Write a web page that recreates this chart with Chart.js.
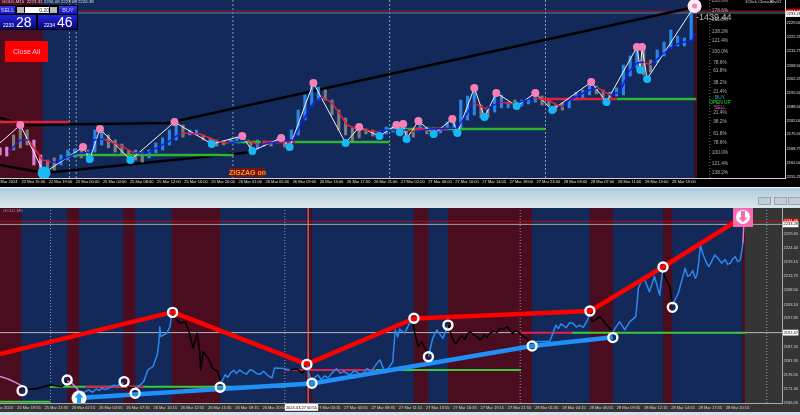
<!DOCTYPE html>
<html>
<head>
<meta charset="utf-8">
<script src="https://cdn.jsdelivr.net/npm/chart.js@4"></script>
<style>
html,body{margin:0;padding:0;background:#d5e2ea;}
#wrap{position:relative;width:800px;height:415px;overflow:hidden;font-family:"Liberation Sans",sans-serif;filter:blur(.35px);}
canvas{position:absolute;left:0;display:block;}
#c1{top:0;background:#000;}
#c2{top:208px;background:#353535;}
.t{position:absolute;white-space:nowrap;line-height:1;}
#strip{position:absolute;left:0;top:187px;width:800px;height:21px;background:linear-gradient(#fff 0,#9fc9e4 2px,#b6d0df 4px,#dbe6ec 100%);}
.sq{position:absolute;top:197px;width:11px;height:6px;background:#c4cdd3;border:1px solid #99a5ad;}
.btn{position:absolute;background:linear-gradient(#3a3ae8,#1414b8);color:#cfd4ff;font-size:5.5px;text-align:center;}
.big{position:absolute;background:linear-gradient(#2424e0,#07077a);}
</style>
</head>
<body>
<div id="wrap">
  <canvas id="c1" width="800" height="187"></canvas>
  <div id="strip"></div>
  <div class="sq" style="left:758px"></div>
  <div class="sq" style="left:774px"></div>
  <div class="sq" style="left:788px"></div>
  <canvas id="c2" width="800" height="204"></canvas>

  <div class="t" style="left:2px;top:0;font-size:4.4px;color:#ddd">GOLD,M15 &nbsp;2223.31 2236.08 2223.06 2226.38</div>
  <div style="position:absolute;left:0;top:5px;width:78px;height:25px;background:#000"></div>
  <div class="btn" style="left:0;top:6px;width:15px;height:8px;line-height:8px">SELL</div>
  <div class="btn" style="left:59px;top:6px;width:18px;height:8px;line-height:8px">BUY</div>
  <div style="position:absolute;left:17px;top:7px;width:7px;height:6px;background:#bbb"></div>
  <div style="position:absolute;left:25px;top:7px;width:24px;height:6px;background:#fff;color:#222;font-size:5px;line-height:6px;text-align:right">0.20</div>
  <div style="position:absolute;left:50px;top:7px;width:7px;height:6px;background:#bbb"></div>
  <div class="big" style="left:0;top:15px;width:36px;height:14px"></div>
  <div class="big" style="left:38px;top:15px;width:39px;height:14px"></div>
  <div class="t" style="left:3px;top:23px;font-size:5px;color:#fff">2233</div>
  <div class="t" style="left:16px;top:15px;font-size:14px;color:#fff">28</div>
  <div class="t" style="left:44px;top:23px;font-size:5px;color:#fff">2234</div>
  <div class="t" style="left:57px;top:15px;font-size:14px;color:#fff">46</div>

  <div class="t" style="left:5px;top:41px;width:43px;height:21px;line-height:21px;background:#ff0000;color:#ffc4c4;font-size:7px;text-align:center">Close All</div>
  <div class="t" style="left:229px;top:168px;width:36px;height:9px;line-height:9px;background:#7a1414;color:#e8a030;font-size:7px;font-weight:bold;text-align:center">ZIGZAG on</div>
  <div class="t" style="left:696px;top:13px;font-size:9px;color:#bbb">-1439.44</div>
  <div class="t" style="left:745px;top:0;font-size:4.4px;color:#ddd">1Click CloseAllv01</div>
  <div class="t" style="left:3px;top:209px;font-size:4.4px;color:#b08a96">GOLD,M5</div>
</div>
<script>
// ---- top panel, M15 ----
const topTimes = ['22 Mar 2024','22 Mar 15:00','22 Mar 19:00','25 Mar 00:00','25 Mar 04:00','25 Mar 08:00','25 Mar 12:00','25 Mar 16:00','25 Mar 20:00','26 Mar 01:00','26 Mar 05:00','26 Mar 09:00','26 Mar 13:00','26 Mar 17:00','26 Mar 21:00','27 Mar 02:00','27 Mar 06:00','27 Mar 10:00','27 Mar 14:00','27 Mar 18:00','27 Mar 23:00','28 Mar 03:00','28 Mar 07:00','28 Mar 11:00','28 Mar 15:00','28 Mar 19:00'];
const topPriceTicks = [2234.46,2233.28,2229.00,2222.25,2215.75,2208.50,2202.25,2195.50,2188.50,2182.00,2175.50,2168.75,2162.00,2155.25];

const candleHigh = [2169,2169.4,2175.2,2178.6,2177.6,2172.8,2165.6,2163.2,2164.2,2165.6,2168,2168.5,2168,2168,2177.6,2177.6,2175.2,2172.8,2170.9,2168,2168,2167,2168,2171.4,2173.8,2177.6,2181,2180,2177.6,2177.6,2175.2,2173.8,2172.8,2172.3,2173.3,2174.2,2174.2,2171.8,2172.8,2172.3,2172.3,2173.8,2172.8,2177.6,2187.2,2194.4,2199.2,2198.2,2196.8,2192,2187.2,2183.4,2178.6,2178.6,2178.1,2177.6,2177.1,2179,2179.5,2179.5,2177.6,2177.6,2180.5,2179,2178.6,2178.6,2181.4,2181.4,2192,2193.9,2196.8,2189.6,2188.6,2194.4,2194.4,2191,2192,2192,2192.5,2195.4,2193.9,2192.5,2189.6,2190.6,2192,2195.8,2196.8,2199.7,2198.7,2196.8,2195.8,2197.8,2208.8,2213.1,2217,2216,2211.2,2216,2219.8,2225.6,2222.7,2221.8,2237.6];
const candleLow = [2165.6,2165.1,2168,2169,2170.4,2160.8,2157.4,2156,2158.4,2160.8,2163.2,2164.6,2164.2,2162.2,2167,2170.4,2169,2167,2165.6,2164.2,2163.2,2162.2,2164.2,2166.6,2168,2170.4,2172.8,2174.2,2175.2,2175.2,2172.8,2169.9,2169.9,2170.4,2171.4,2171.8,2171.4,2167,2168.5,2169.9,2169.9,2171.4,2169.4,2171.8,2175.2,2182.4,2189.6,2192,2192,2184.8,2177.6,2175.2,2171.8,2173.8,2175.7,2174.7,2173.8,2175.7,2176.6,2174.7,2173.8,2174.2,2177.6,2175.7,2175.7,2176.2,2178.1,2176.6,2177.6,2182.4,2184.8,2183.4,2183.8,2186.2,2188.2,2188.2,2188.6,2189.1,2190.1,2191,2189.6,2189.1,2186.7,2187.2,2188.2,2192,2193,2194.4,2194.9,2193.4,2193,2193.9,2194.4,2203.5,2207.4,2204,2205.4,2210.2,2213.1,2217,2217.9,2217.9,2220.8];
const candleKinds = ['pp','ggg','pp','gg','uuu','gg','uu','gggggg','uuuuu','g','uu','gggg','uu','gg','u','gg','u','g','uuuuu','ggggggggg','uu','ggg','u','gg','uuuuuu','gg','uuu','g','uuu','gggg','uuuu','ggg','uuuu','gg','uuuuuu'].join('');

const highBars = [12,49,59,103,143,166,185,212,234,238,247,267,280,293,316,349,376,379,410];
const highPrices = [2180,2169.4,2178.1,2181.4,2174.7,2173.8,2200.2,2179,2180,2180.5,2181.9,2182.9,2197.8,2195.4,2195.4,2200.6,2217.4,2217.4,2237.1];
const lowBars = [0,26,53,77,125,149,171,204,224,236,240,256,270,286,305,326,358,378,382];
const lowPrices = [2171.4,2157,2163.7,2163.2,2170.9,2167.5,2169.4,2171.4,2174.7,2176.6,2173.3,2175.7,2176.2,2183.8,2189.1,2187.2,2191,2206.4,2202.1];

const maBars = [5,12,17,25,30,34,40,44,53,55,61,73,79,87,99,107,118,130,135,146,153,159,173,179,185,190,196,205,211,215,223,229,241,245,254,270,276,279,287,295,303,315,323,332,336,348,353,360,366,371,376,380,384,394,401,409,410];
const maPrices = [2167,2172.8,2172.8,2163.2,2162.2,2162.2,2164.6,2166.1,2167,2172.8,2173.3,2169.4,2166.6,2166.6,2171.8,2176.2,2175.7,2171.8,2171.4,2172.8,2170.4,2171.4,2172.8,2182.4,2190.6,2193.4,2190.6,2180,2178.1,2177.6,2176.6,2177.6,2177.6,2176.6,2178.1,2178.6,2185.8,2190.6,2187.7,2191,2190.1,2193,2192,2188.6,2192,2196.8,2197.8,2194.4,2195.8,2205.4,2209.8,2210.2,2208.8,2216,2219.4,2220.8,2224.2];

const trendUpperBars = [0,15,99,410];
const trendUpperPrices = [2183.4,2180,2181,2236.6];
const trendLowerBars = [0,26,149];
const trendLowerPrices = [2160.8,2157,2167];

const topGreen = [[40,138,2165.6],[137,154,2171.8],[174,230,2171.8],[229,322,2178.1],[364,411,2192.5]];
const topRed = [[0,41,2181.4],[155,174,2171.8],[245,251,2178.1],[254,264,2178.1],[320,364,2192.5]];
const topDotted = [41,45,137.5,230,322];
const fibNames = ['200.0%','178.6%','161.8%','138.2%','121.4%','100.0%','78.6%','61.8%','38.2%','21.4%','BUY','OPEN UP','SELL','21.4%','38.2%','61.8%','78.6%','100.0%','121.4%','138.2%'];
const fibPrices = [2239.5,2234.7,2230.4,2224.6,2220.3,2215,2209.8,2205.9,2200.2,2195.8,2193,2190.6,2188.2,2185.8,2181.4,2175.7,2171.4,2166.6,2161.3,2157];

// ---- bottom panel, M5 ----
const bottomTimes = ['25 Mar 2024','25 Mar 19:55','25 Mar 23:35','26 Mar 02:15','26 Mar 04:55','26 Mar 07:35','26 Mar 10:15','26 Mar 12:55','26 Mar 15:35','26 Mar 18:15','26 Mar 20:55','2024.03.27 00:55','27 Mar 03:15','27 Mar 05:55','27 Mar 08:35','27 Mar 11:15','27 Mar 13:55','27 Mar 16:35','27 Mar 19:15','27 Mar 21:55','28 Mar 01:35','28 Mar 04:15','28 Mar 06:55','28 Mar 09:35','28 Mar 12:15','28 Mar 14:55','28 Mar 17:35','28 Mar 20:15'];
const bottomPriceTicks = [2234.46,2233.28,2229.65,2224.40,2219.15,2213.75,2208.50,2203.10,2197.85,2192.47,2187.20,2181.95,2176.55,2171.30,2166.05];

const m5Bars = [0,6,12,18,26,27,35,44,51,59,65,73,79,85,91,93,
    100,104,109,113,117,120,124,129,133,138,142,146,
    151,159,165,169,174,180,185,187,188,189,196,200,202,206,212,218,223,227,232,235,236,239,245,250,256,260,
    262,265,268,271,275,278,282,286,290,294,298,302,306,310,315,320,323,
    334,341,349,356,361,
    367,371,374,378,382,386,391,396,400,405,412,416,420,425,432,437,442,447,
    453,462,465,468,470,476,485,488,492,496,502,504,509,514,521,527,
    533,536,540,543,547,550,553,558,562,565,570,573,576,581,585,588,592,597,600,603,607,612,616,620,623,626,
    632,641,647,
    654,657,660,662,666,670,674,678,682,686,690,692,694,
    697,706,712,721,729,735,741,748,751,757,764,770,776,780,782,788,791,798,
    806,809,812,815,818,820,822,824,827,829,832,834,838,841,845,849,853,856,859,862,865,868,871,
    874,875,875.5];
const m5Prices = [2175.9,2175.4,2174.6,2173.7,2172.4,2171.6,2171.1,2171.4,2172.1,2172.8,2172.4,2172.1,2174.3,2173.3,2171.2,2169.7,
    2170.1,2170.9,2170,2171.2,2170.7,2171.5,2171,2171.7,2172.6,2172.4,2173.5,2173.3,
    2171.9,2171.6,2172.8,2174,2178.4,2179.7,2184.1,2189.1,2194.7,2191,2192.2,2194.7,2199.8,2197.9,2196,2196.6,2192.2,2186.6,2192.2,2185.3,2178.4,2185.3,2182.8,2179.1,2177.8,2174,
    2174.6,2176.6,2175.6,2177.2,2178.3,2177.1,2178.4,2177.4,2176.8,2178.5,2178.1,2177,2176.8,2177.9,2176.3,2175.4,2179.1,
    2178.9,2178.4,2178.8,2177.3,2179.9,
    2173.5,2175.8,2176.5,2174.8,2176.2,2175.4,2177.4,2178.9,2177.2,2177.8,2176.5,2178,2177.6,2176.4,2178.9,2177.8,2180.3,2182.2,
    2177.3,2181.4,2193.5,2190.8,2193.8,2192.3,2198,2192.2,2187.2,2189.1,2185.3,2183.4,2190.3,2193.5,2190.3,2195.3,
    2189.7,2188.2,2190,2191.3,2190,2192,2192.8,2191.5,2190.6,2189.7,2191.6,2190.6,2192.2,2193,2192.6,2194.1,2193.8,2194.7,2193.4,2192.2,2193.2,2192.2,2191,2190.3,2189,2187.4,
    2189.1,2189.1,2189.3,
    2195.3,2194,2195.8,2195.3,2194.3,2196.2,2196,2194.6,2195.3,2194.4,2196.5,2198,2200.6,
    2196.6,2198.5,2196,2192.8,2196.6,2193.5,2196.6,2198.5,2209.2,2213.6,2207.9,2213.6,2206.6,2217.2,2213.6,2209.8,2202.9,2207.3,
    2216.7,2213.7,2214.2,2215.8,2213,2214.2,2219,2225.5,2222,2220.5,2218.3,2217.3,2219.8,2221.7,2220.4,2218.6,2220,2218.2,2218.6,2220.2,2221.1,2219.2,2219.9,
    2226.1,2233.1,2236.4];
const m5ZoneEnds = [26,79,93,146,159,202,260,341,361,485,504,527,626,694,721,780,791,874,9999];
const m5ZoneKinds = ['pink','black','pink','blue','black','blue','black','blue','black','blue','black','blue','black','blue','black','blue','black','blue','pink'];

const pivotBars = [26,79,146,159,203,259,361,367,487,504,527,626,694,721,780,791];
const pivotPrices = [2170.6,2174.6,2174,2169.6,2200.1,2171.9,2180.5,2173.4,2197.9,2183.4,2195.3,2187.4,2200.6,2190.6,2217.2,2202];
const swingHighBars = [0,203,361,487,694,780,874];
const swingHighPrices = [2184.4,2200.2,2180.6,2197.8,2200.6,2217.2,2236.1];
const swingLowBars = [93,259,367,626,721];
const swingLowPrices = [2167.8,2171.2,2173.3,2187.4,2190.7];

const bottomGreen = [[0,59,2166.4],[59,336,2172.1],[341,368,2178.4],[442,613,2178.4],[673,878,2192.4]];
const bottomRed = [[100,169,2172.1],[335,442,2178.4],[612,673,2192.4]];
const bottomDotted = [59.5,335,612,902];
const bottomRedBands = [[0,25],[79,93],[145,159],[202,259],[360,367],[487,504],[527,626],[694,721],[780,791],[873,876]];

// helpers
const pts = (xs, ys) => xs.map((x, i) => ({x: x, y: ys[i]}));
const hSegs = list => list.flatMap(s => [{x: s[0], y: s[2]}, {x: s[1], y: s[2]}, {x: s[1], y: null}]);
const vLines = (xs, a, b) => xs.flatMap(x => [{x: x, y: a}, {x: x, y: b}, {x: x, y: null}]);
const hLine = (y, a, b) => [{x: a, y: y}, {x: b, y: y}];
const line = (data, color, width, extra) => Object.assign({type: 'line', data: data, borderColor: color, borderWidth: width, pointRadius: 0, fill: false, borderJoinStyle: 'round'}, extra || {});
const dots = (data, color, radius, extra) => Object.assign({type: 'line', data: data, showLine: false, pointRadius: radius, pointBackgroundColor: color, pointBorderColor: color, pointBorderWidth: 0}, extra || {});

function arrowIcon(up) {
    const size = up ? 16 : 20;
    const c = document.createElement('canvas');
    c.width = size; c.height = size;
    const g = c.getContext('2d');
    const m = size / 2;
    if (!up) { g.fillStyle = '#f56cb2'; g.fillRect(0, 0, size, size); }
    g.fillStyle = '#fff';
    g.beginPath(); g.arc(m, m, up ? 7.5 : 7, 0, Math.PI * 2); g.fill();
    g.fillStyle = up ? '#1aa0f0' : '#f56cb2';
    g.translate(m, m);
    if (!up) g.rotate(Math.PI);
    g.beginPath();
    g.moveTo(0, -5.5); g.lineTo(4.5, -0.5); g.lineTo(2, -0.5); g.lineTo(2, 6); g.lineTo(-2, 6); g.lineTo(-2, -0.5); g.lineTo(-4.5, -0.5);
    g.closePath(); g.fill();
    return c;
}

// colour bands behind the marks, placed through the x scale
const bandsPlugin = {
    id: 'bands',
    beforeDatasetsDraw(chart, args, o) {
        const g = chart.ctx, a = chart.chartArea, x = chart.scales.x;
        g.save();
        const fill = (s, e, col) => {
            const l = x.getPixelForValue(s), r = x.getPixelForValue(e);
            g.fillStyle = col;
            g.fillRect(l, a.top, r - l, a.bottom - a.top);
        };
        fill(o.navy[0], o.navy[1], '#13295a');
        o.red.forEach(b => fill(b[0], b[1], '#4a0d20'));
        g.restore();
    }
};

// percent labels of the fibo column
const fibPlugin = {
    id: 'fibLabels',
    afterDatasetsDraw(chart, args, o) {
        if (!o.names) return;
        const g = chart.ctx, x = chart.scales.x.getPixelForValue(o.bar);
        g.save();
        g.font = '4.8px "Liberation Sans"';
        g.textAlign = 'center'; g.textBaseline = 'middle';
        o.names.forEach((n, i) => {
            g.fillStyle = n === 'BUY' ? '#16c0d8' : n === 'OPEN UP' ? '#22e03a' : n === 'SELL' ? '#f060c0' : '#b0b0b0';
            g.fillText(n, x, chart.scales.y.getPixelForValue(o.prices[i]));
        });
        g.restore();
    }
};
Chart.register(bandsPlugin, fibPlugin);

function scales(opt) {
    return {
        x: {
            type: 'linear', position: 'bottom', min: 0, max: opt.xMax, offset: false, bounds: 'data',
            grid: {display: false, offset: false, drawTicks: false, tickLength: 0},
            border: {color: opt.axisColor, width: 1},
            afterFit: s => { s.height = opt.xHeight; s.paddingLeft = 0; s.paddingRight = 0; },
            afterBuildTicks: s => { s.ticks = opt.times.map((t, i) => ({value: opt.xStart + opt.xStep * i})); },
            ticks: {
                autoSkip: false, maxRotation: 0, minRotation: 0, padding: opt.xPad,
                font: {size: 4, family: '"Liberation Sans"'},
                color: ctx => opt.times[ctx.index] && opt.times[ctx.index].startsWith('2024.') ? '#000' : opt.tickColor,
                callback: (v, i) => opt.times[i],
                showLabelBackdrop: ctx => opt.times[ctx.index] && opt.times[ctx.index].startsWith('2024.'),
                backdropColor: '#fff', backdropPadding: 1
            }
        },
        y: {
            type: 'linear', position: 'right', min: opt.yMin, max: opt.yMax, bounds: 'data',
            grid: {display: false, drawTicks: false, tickLength: 0},
            border: {color: opt.axisColor, width: 1},
            afterFit: s => { s.width = opt.yWidth; s.paddingTop = 0; s.paddingBottom = 0; },
            afterBuildTicks: s => { s.ticks = opt.prices.map(v => ({value: v})); },
            ticks: {
                autoSkip: false, crossAlign: 'near', padding: 1.5,
                font: {size: 4, family: '"Liberation Sans"'},
                color: ctx => ctx.tick.value === opt.ask ? '#fff' : ctx.tick.value === opt.bid || opt.marked === ctx.tick.value ? '#000' : opt.tickColor,
                callback: v => v.toFixed(2),
                showLabelBackdrop: ctx => ctx.tick.value === opt.ask || ctx.tick.value === opt.bid || ctx.tick.value === opt.marked,
                backdropColor: ctx => ctx.tick.value === opt.ask ? '#d00000' : '#fff',
                backdropPadding: 0.5
            }
        }
    };
}

const TOP_MIN = 2154.56, TOP_MAX = 2240, TOP_BARS = 463.4;
const candleColors = {p: '#e080d8', g: '#7c7c7c', u: '#2a86e6'};

new Chart(document.getElementById('c1'), {
    type: 'line',
    data: {datasets: [
        dots(pts(highBars.slice(0, -1), highPrices.slice(0, -1)), '#f77fb8', 4),
        dots(pts(lowBars.slice(1), lowPrices.slice(1)), '#16b8f5', ctx => lowBars[ctx.dataIndex + 1] === 26 ? 6.5 : 4),
        dots([{x: 410, y: 2237.1}], '#f77fb8', 2.5),
        line(pts(maBars, maPrices), '#0a22e8', 1.5, {segment: {borderColor: c => c.p1.parsed.y < c.p0.parsed.y ? '#e0203c' : '#0a22e8'}}),
        line(pts(lowBars.concat(highBars).sort((a, b) => a - b), lowBars.concat(highBars).sort((a, b) => a - b).map(b => lowBars.includes(b) ? lowPrices[lowBars.indexOf(b)] : highPrices[highBars.indexOf(b)])), '#f2f2f2', 1),
        dots([{x: 410, y: 2237.1}], '#fdeaf2', 7),
        line(hSegs(topRed), '#e0203f', 2.5),
        line(hSegs(topGreen), '#2fb52f', 2.5),
        {type: 'bar', data: candleHigh.map((h, i) => ({x: i * 4, y: [candleLow[i], h]})), backgroundColor: candleKinds.split('').map(k => candleColors[k]), barThickness: 2.5, grouped: false},
        line(pts(trendUpperBars, trendUpperPrices), '#000', 2.5),
        line(pts(trendLowerBars, trendLowerPrices), '#000', 2.5),
        line(hLine(2233.76, 0, TOP_BARS), '#6b7a94', 1),
        line(hLine(2234.7, 0, TOP_BARS), '#8a1830', 1.2),
        line(vLines(topDotted, TOP_MIN, TOP_MAX), '#8b9ab4', 1, {borderDash: [2, 2]}),
        line(vLines([419], TOP_MIN, TOP_MAX), '#777', 1, {borderDash: [1, 2]})
    ]},
    options: {
        responsive: false, animation: false, events: [],
        layout: {autoPadding: false, padding: 0},
        plugins: {
            legend: {display: false}, tooltip: {enabled: false},
            bands: {navy: [0, 410], red: [[0, 25], [410, 411.5]]},
            fibLabels: {names: fibNames, prices: fibPrices, bar: 425}
        },
        scales: scales({xMax: TOP_BARS, xStart: 3.7, xStep: 16, xHeight: 9, xPad: 1.5, yWidth: 15, yMin: TOP_MIN, yMax: TOP_MAX, times: topTimes, prices: topPriceTicks, ask: 2234.46, bid: 2233.28, axisColor: '#cfcfcf', tickColor: '#e0e0e0'})
    }
});

const BOT_MIN = 2165.94, BOT_MAX = 2239.45, BOT_BARS = 920;
const m5Colors = {pink: '#d880e0', black: '#000', blue: '#2a88ee'};
const m5Zone = bar => m5ZoneKinds[m5ZoneEnds.findIndex(e => bar <= e)];

new Chart(document.getElementById('c2'), {
    type: 'line',
    data: {datasets: [
        {type: 'line', data: [{x: 93, y: 2167.8}], showLine: false, pointStyle: arrowIcon(true)},
        {type: 'line', data: [{x: 874, y: 2236.1}], showLine: false, pointStyle: arrowIcon(false)},
        {type: 'line', data: pts(pivotBars, pivotPrices), showLine: false, pointRadius: 4.5, pointBackgroundColor: 'rgba(0,0,0,0)', pointBorderColor: '#fff', pointBorderWidth: 2.4},
        line(pts(swingHighBars, swingHighPrices), '#ff0000', 4.5),
        line(pts(swingLowBars, swingLowPrices), '#1e90f8', 4.5),
        line(pts(m5Bars, m5Prices), '#2a88ee', 1.5, {segment: {borderColor: c => m5Colors[m5Zone(m5Bars[c.p1DataIndex])]}}),
        line(hSegs(bottomRed), '#e0204a', 2),
        line(hSegs(bottomGreen), '#3cc83c', 2),
        line(vLines([362.5], BOT_MIN, BOT_MAX), '#c29aa6', 1),
        line(hLine(2192.47, 0, BOT_BARS), '#b8b8b8', 1),
        line(hLine(2233.28, 0, BOT_BARS), '#a8a8a8', 1),
        line(hLine(2234.46, 0, BOT_BARS), '#b01018', 1),
        line(vLines(bottomDotted, BOT_MIN, BOT_MAX), '#8b9ab4', 1, {borderDash: [1, 2]})
    ]},
    options: {
        responsive: false, animation: false, events: [],
        layout: {autoPadding: false, padding: 0},
        plugins: {
            legend: {display: false}, tooltip: {enabled: false},
            bands: {navy: [0, 876], red: bottomRedBands}
        },
        scales: scales({xMax: BOT_BARS, xStart: 2, xStep: 32.06, xHeight: 9, xPad: 2, yWidth: 18, yMin: BOT_MIN, yMax: BOT_MAX, times: bottomTimes, prices: bottomPriceTicks, ask: 2234.46, bid: 2233.28, marked: 2192.47, axisColor: '#a8a8a8', tickColor: '#d8d8d8'})
    }
});
</script>
</body>
</html>
